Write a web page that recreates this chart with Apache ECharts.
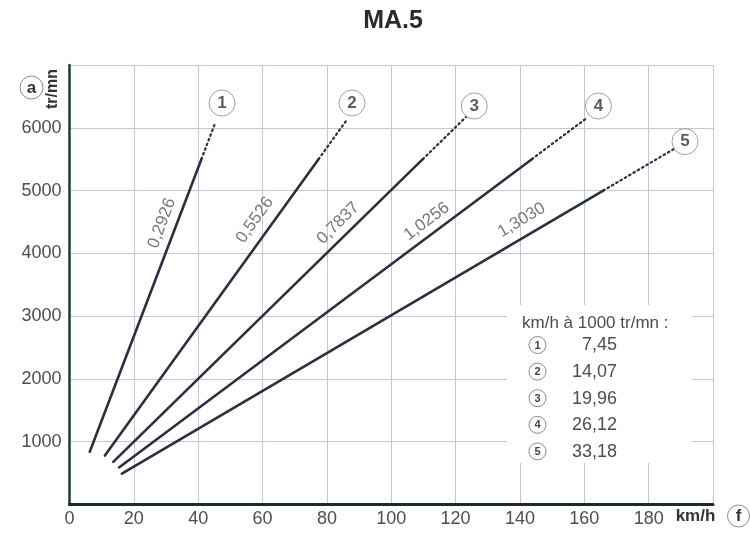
<!DOCTYPE html>
<html>
<head>
<meta charset="utf-8">
<script src="https://cdn.jsdelivr.net/npm/echarts@6/dist/echarts.min.js"></script>
<style>html,body{margin:0;padding:0;background:#fff;}#c{width:750px;height:533px;}</style>
</head>
<body>
<div id="c"></div>
<script>
// ---- data ----
const chartTitle = 'MA.5';
const gearNames = ['1', '2', '3', '4', '5'];
const kmhPer1000 = [7.45, 14.07, 19.96, 26.12, 33.18];
const ratioLabels = ['0,2926', '0,5526', '0,7837', '1,0256', '1,3030'];
const solidStartKmh = [6.3, 11.0, 13.6, 15.4, 16.3];
const solidStartRpm = [840, 780, 680, 590, 490];
const solidEndKmh = [41.0, 77.4, 109.8, 143.7, 165.9];
const solidEndRpm = [5500, 5500, 5500, 5500, 5000];
const dottedEndKmh = [45.3, 86.1, 123.2, 160.9, 188.1];
const dottedEndRpm = [6080, 6120, 6170, 6160, 5670];
const ratioLabelKmh = [28.7, 57.6, 83.5, 111.0, 140.5];
const ratioLabelRpm = [4480, 4530, 4480, 4510, 4530];
const gearTagKmh = [47.4, 87.8, 125.8, 164.4, 191.3];
const gearTagRpm = [6395, 6395, 6347, 6347, 5780];
const xTickLabels = ['0', '20', '40', '60', '80', '100', '120', '140', '160', '180'];
const yTickLabels = ['1000', '2000', '3000', '4000', '5000', '6000'];
const legendTitle = 'km/h à 1000 tr/mn :';
const xUnit = 'km/h', xTag = 'f', yUnit = 'tr/mn', yTag = 'a';

// ---- styles ----
const FONT = '"Liberation Sans", Arial, Helvetica, sans-serif';
const LINE_COLOR = '#2a303f';
const TEXT_COLOR = '#4d4d4d';
const ratioAngle = [69.5, 54.7, 44.6, 36.8, 30.8];

const chart = echarts.init(document.getElementById('c'), null, {renderer: 'canvas'});

const series = [];
gearNames.forEach((g, i) => {
  series.push({
    type: 'line', name: 'g' + g, symbol: 'none', silent: true, z: 3,
    lineStyle: {color: LINE_COLOR, width: 2.6, cap: 'round'},
    data: [[solidStartKmh[i], solidStartRpm[i]], [solidEndKmh[i], solidEndRpm[i]]]
  });
  series.push({
    type: 'line', name: 'g' + g + 'dot', symbol: 'none', silent: true, z: 3,
    lineStyle: {color: LINE_COLOR, width: 2.2, type: [1.6, 3.4], cap: 'round'},
    data: [[solidEndKmh[i], solidEndRpm[i]], [dottedEndKmh[i], dottedEndRpm[i]]]
  });
  series.push({
    type: 'scatter', symbolSize: 0, silent: true, z: 4,
    data: [[ratioLabelKmh[i], ratioLabelRpm[i]]],
    label: {show: true, position: 'inside', formatter: ratioLabels[i], rotate: ratioAngle[i],
      fontFamily: FONT, fontSize: 17, color: '#555', align: 'center', verticalAlign: 'middle'}
  });
});
series.push({
  type: 'scatter', symbol: 'circle', symbolSize: 26, silent: true, z: 5,
  itemStyle: {color: '#fff', borderColor: '#8a8a8a', borderWidth: 1},
  data: gearNames.map((g, i) => ({value: [gearTagKmh[i], gearTagRpm[i]], name: g})),
  label: {show: true, position: 'inside', formatter: p => p.name,
    fontFamily: FONT, fontSize: 17, fontWeight: 'bold', color: '#333'}
});

// legend box (graphic)
const legendChildren = [
  {type: 'rect', shape: {x: 507, y: 305, width: 185, height: 158}, style: {fill: '#fff'}, z: 1},
  {type: 'text', x: 522, y: 323, style: {text: legendTitle, font: '17px ' + FONT, fill: TEXT_COLOR, verticalAlign: 'middle'}, z: 2}
];
gearNames.forEach((g, i) => {
  const cy = 345 + i * 26.6;
  legendChildren.push({type: 'circle', shape: {cx: 537.5, cy: cy, r: 8.5}, style: {fill: '#fff', stroke: '#8a8a8a', lineWidth: 1}, z: 2});
  legendChildren.push({type: 'text', x: 537.5, y: cy + 0.5, style: {text: g, font: 'bold 11px ' + FONT, fill: '#444', align: 'center', verticalAlign: 'middle'}, z: 3});
  legendChildren.push({type: 'text', x: 617, y: cy + 0.5, style: {text: kmhPer1000[i].toFixed(2).replace('.', ','), font: '18px ' + FONT, fill: TEXT_COLOR, align: 'right', verticalAlign: 'middle'}, z: 3});
});

const option = {
  animation: false,
  backgroundColor: '#fff',
  grid: {left: 69.5, right: 37, top: 65, bottom: 28.5, containLabel: false, outerBoundsMode: 'none'},
  xAxis: {
    type: 'value', min: 0, max: 200, interval: 20,
    axisLine: {show: true, onZero: false, lineStyle: {color: '#1d2a26', width: 3}},
    axisTick: {show: false},
    splitLine: {show: true, lineStyle: {color: '#c3c6d3', width: 1}},
    axisLabel: {margin: 6, fontFamily: FONT, fontSize: 18, color: TEXT_COLOR,
      formatter: v => { const k = Math.round(v / 20); return k < xTickLabels.length ? xTickLabels[k] : ''; }}
  },
  yAxis: {
    type: 'value', min: 0, max: 7000, interval: 1000,
    axisLine: {show: true, onZero: false, lineStyle: {color: '#1e3a28', width: 2.5}},
    axisTick: {show: false},
    splitLine: {show: true, lineStyle: {color: '#c3c6d3', width: 1}},
    axisLabel: {margin: 8, fontFamily: FONT, fontSize: 18, color: TEXT_COLOR,
      formatter: v => { const k = Math.round(v / 1000) - 1; return (k >= 0 && k < yTickLabels.length) ? yTickLabels[k] : ''; }}
  },
  graphic: [
    {type: 'text', x: 393, y: 21, style: {text: chartTitle, font: 'bold 25px ' + FONT, fill: '#2b2b2b', align: 'center', verticalAlign: 'middle'}},
    {type: 'circle', shape: {cx: 31.5, cy: 87.5, r: 11.5}, style: {fill: '#fff', stroke: '#8a8a8a', lineWidth: 1}},
    {type: 'text', x: 31.5, y: 88, style: {text: yTag, font: 'bold 17px ' + FONT, fill: '#333', align: 'center', verticalAlign: 'middle'}},
    {type: 'text', x: 53, y: 89, rotation: Math.PI / 2, style: {text: yUnit, font: 'bold 16px ' + FONT, fill: '#333', align: 'center', verticalAlign: 'middle'}},
    {type: 'text', x: 695.5, y: 516, style: {text: xUnit, font: 'bold 17px ' + FONT, fill: '#333', align: 'center', verticalAlign: 'middle'}},
    {type: 'circle', shape: {cx: 738.5, cy: 516, r: 11}, style: {fill: '#fff', stroke: '#8a8a8a', lineWidth: 1}},
    {type: 'text', x: 738.5, y: 516.5, style: {text: xTag, font: 'bold 17px ' + FONT, fill: '#333', align: 'center', verticalAlign: 'middle'}},
    {type: 'group', children: legendChildren}
  ],
  series: series
};
chart.setOption(option);
</script>
</body>
</html>
